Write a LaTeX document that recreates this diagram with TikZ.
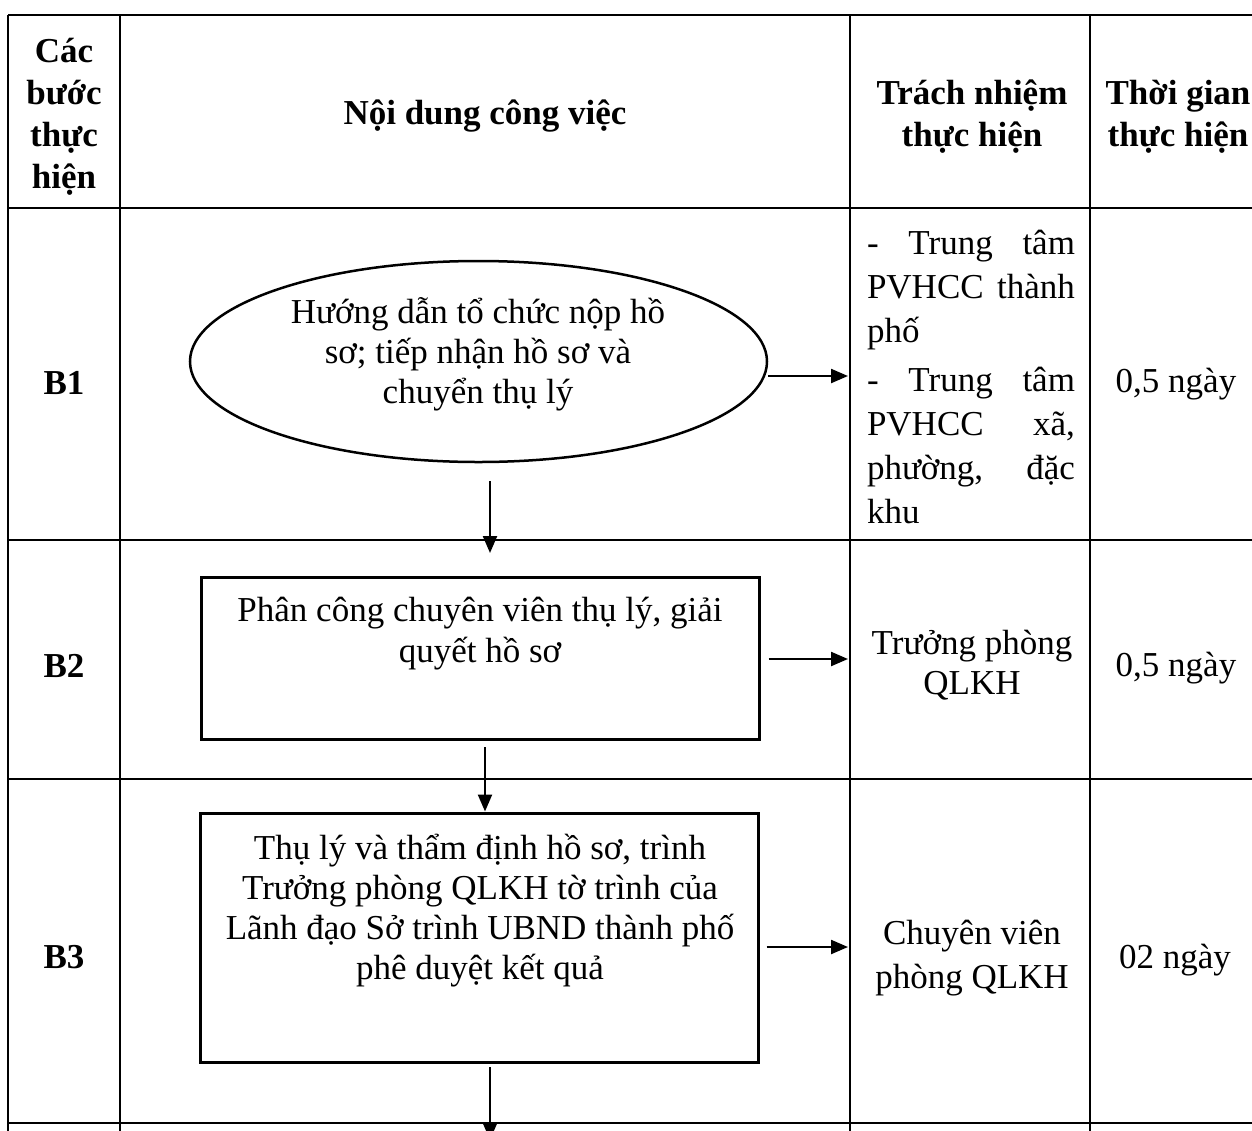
\documentclass[tikz,border=0pt]{standalone}
\usepackage{fontspec}
\setmainfont{Liberation Serif}
\usetikzlibrary{arrows.meta,shapes.geometric}

\begin{document}
\begin{tikzpicture}[x=1bp,y=-1bp,
  txt/.style={font=\fontsize{35bp}{42bp}\selectfont, inner sep=0pt, align=center},
  boxtxt/.style={font=\fontsize{35bp}{40bp}\selectfont, inner sep=0pt, align=center},
  head/.style={txt, font=\fontsize{35bp}{42bp}\selectfont\bfseries},
  rule/.style={line width=1.5bp},
  heavyrule/.style={line width=2.3bp},
  stepbox/.style={draw, line width=3bp, inner sep=0pt, minimum width=557bp},
  oval/.style={draw, ellipse, line width=2.5bp, inner sep=0pt},
  arr/.style={line width=2.3bp, -{Triangle[length=17bp,width=14bp]}}]

\useasboundingbox (0,0) rectangle (1252,1131);
\clip (0,0) rectangle (1252,1131);

% table grid
\draw[heavyrule] (8,15) -- (1260,15);
\draw[heavyrule] (8,208) -- (1260,208);
\draw[rule] (8,540) -- (1260,540);
\draw[rule] (8,779) -- (1260,779);
\draw[rule] (8,1123) -- (1260,1123);
\draw[heavyrule] (8,15) -- (8,1135);
\foreach \xc in {120,850,1090}
  \draw[rule] (\xc,15) -- (\xc,1135);

% header row
\node[head] (h1) at (64,117) {Các\\bước\\thực\\hiện};
\node[head] (h2) at (485,116) {Nội dung công việc};
\node[head] (h3) at (972,117) {Trách nhiệm\\thực hiện};
\node[head] (h4) at (1178,117) {Thời gian\\thực hiện};

% step labels
\node[head] (s1) at (64,383) {B1};
\node[head] (s2) at (64,666) {B2};
\node[head] (s3) at (64,957) {B3};

% step 1
\node[oval, minimum width=577bp, minimum height=201bp] (e1) at (478.5,361.5) {};
\node[boxtxt] (e1t) at (478,354) {Hướng dẫn tổ chức nộp hồ\\sơ; tiếp nhận hồ sơ và\\chuyển thụ lý};
\node[inner sep=0pt, text width=208bp, align=justify,
      font=\fontsize{35bp}{44bp}\selectfont] (r1) at (971,377)
  {\parindent=0pt\parskip=5bp\hyphenpenalty=10000
   - Trung tâm\linebreak PVHCC thành\linebreak phố\par
   - Trung tâm\linebreak PVHCC xã,\linebreak phường, đặc\linebreak khu};
\node[txt] (t1) at (1176,384) {0,5 ngày};

% step 2
\node[stepbox, minimum height=162bp] (b2) at (480.5,658) {};
\node[boxtxt, font=\fontsize{35bp}{41bp}\selectfont] (b2t) at (480,634) {Phân công chuyên viên thụ lý, giải\\quyết hồ sơ};
\node[txt, font=\fontsize{35bp}{40bp}\selectfont] (r2) at (972,665) {Trưởng phòng\\QLKH};
\node[txt] (t2) at (1176,668) {0,5 ngày};

% step 3
\node[stepbox, minimum height=249bp] (b3) at (479.5,937.5) {};
\node[boxtxt] (b3t) at (480,911) {Thụ lý và thẩm định hồ sơ, trình\\Trưởng phòng QLKH tờ trình của\\Lãnh đạo Sở trình UBND thành phố\\phê duyệt kết quả};
\node[txt, font=\fontsize{35bp}{44bp}\selectfont] (r3) at (972,958) {Chuyên viên\\phòng QLKH};
\node[txt] (t3) at (1175,960) {02 ngày};

% connector end points
\coordinate (c1) at (848,376);
\coordinate (c2) at (848,659);
\coordinate (c3) at (848,947);
\coordinate (d1s) at (490,481);
\coordinate (d1e) at (490,553);
\coordinate (d2s) at (485,747);
\coordinate (d3s) at (490,1067);
\coordinate (d3e) at (490,1140);

% connectors
\draw[arr] (e1.east |- c1) -- (c1);
\draw[arr] (b2.east |- c2) ++(8,0) -- (c2);
\draw[arr] (b3.east |- c3) ++(7,0) -- (c3);
\draw[arr] (d1s) -- (d1e);
\draw[arr] (d2s) -- (b3.north -| d2s);
\draw[arr] (d3s) -- (d3e);
\end{tikzpicture}
\end{document}
